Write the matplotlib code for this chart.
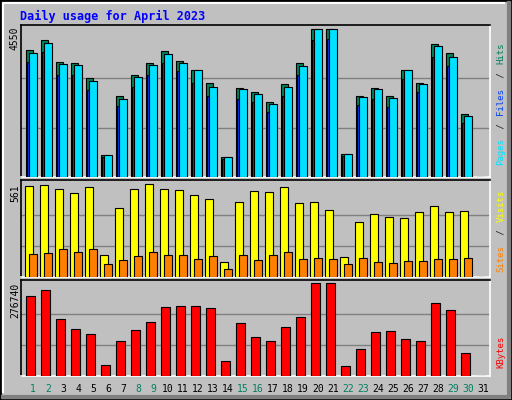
import matplotlib
matplotlib.use('Agg')
import matplotlib.pyplot as plt
import numpy as np

# daily values (April 2023)
days = np.arange(1, 32)
hits = [3900, 4200, 3550, 3520, 3050, 680, 2500, 3150, 3520, 3880, 3580, 3300, 2900, 620,
        2750, 2600, 2300, 2850, 3500, 4550, 4550, 720, 2500, 2750, 2500, 3300, 2900, 4100,
        3800, 1950, 0]
files = [3800, 4120, 3460, 3430, 2950, 680, 2400, 3060, 3430, 3790, 3490, 3300, 2770, 620,
         2700, 2540, 2230, 2780, 3420, 4550, 4550, 720, 2450, 2700, 2420, 3300, 2870, 4020,
         3700, 1880, 0]
pages = [3550, 3830, 3150, 3150, 2680, 620, 2170, 2780, 3150, 3520, 3250, 2900, 2500, 560,
         2400, 2300, 2000, 2500, 3150, 4200, 4250, 660, 2200, 2400, 2150, 3000, 2600, 3700,
         3400, 1650, 0]
visits = [550, 556, 531, 507, 544, 133, 416, 531, 561, 531, 525, 495, 471, 90, 453, 519, 513,
          543, 447, 453, 405, 121, 332, 380, 362, 356, 392, 428, 392, 398, 0]
sites = [139, 145, 169, 151, 169, 79, 103, 127, 151, 133, 133, 109, 127, 48, 133, 103, 133,
         151, 109, 115, 109, 79, 115, 91, 85, 97, 97, 109, 109, 115, 0]
kbytes = [238000, 256000, 170000, 140000, 125000, 33000, 104000, 137000, 161000, 205000,
          208000, 208000, 202000, 45000, 158000, 116000, 104000, 146000, 177000, 276740,
          276740, 30000, 79000, 131000, 134000, 110000, 104000, 217000, 196000, 67000, 0]
weekend = [1, 2, 8, 9, 15, 16, 22, 23, 29, 30]

W, H = 512, 400
BG = '#c0c0c0'
fig = plt.figure(figsize=(W / 100, H / 100), dpi=100)
fig.patch.set_facecolor(BG)


def px_axes(x0, y0, x1, y1):
    ax = fig.add_axes([x0 / W, 1 - y1 / H, (x1 - x0) / W, (y1 - y0) / H])
    ax.set_facecolor(BG)
    ax.set_xlim(0.4, 31.67)
    ax.set_xticks([])
    ax.set_yticks([])
    for s in ['top', 'left']:
        ax.spines[s].set_color('black')
        ax.spines[s].set_linewidth(1.2)
    for s in ['bottom', 'right']:
        ax.spines[s].set_color('white')
        ax.spines[s].set_linewidth(1.2)
    return ax


def bars(ax, vals, l, r, color):
    ax.bar(days + (l + r) / 2, vals, width=r - l, color=color, edgecolor='black',
           linewidth=0.8, zorder=3)


# outer frame
fig.add_artist(plt.Rectangle((0, 0), 1, 1, transform=fig.transFigure, fill=False,
                             edgecolor='black', linewidth=2))
fig.add_artist(plt.Line2D([3 / W, 3 / W, 1 - 8 / W], [8 / H, 1 - 3 / H, 1 - 3 / H],
                          transform=fig.transFigure, color='white', linewidth=1.5))
fig.add_artist(plt.Line2D([3 / W, 1 - 3 / W, 1 - 3 / W], [3 / H, 3 / H, 1 - 3 / H],
                          transform=fig.transFigure, color='#808080', linewidth=3))

fig.text(20 / W, 1 - 16 / H, 'Daily usage for April 2023', color='#0000ff',
         family='DejaVu Sans Mono', fontweight='bold', fontsize=8.5, va='center')

# top panel: hits / files / pages
ax1 = px_axes(21, 25, 490, 177)
ymax1 = max(hits) * 148 / 148.0
ax1.set_ylim(0, ymax1 * 152 / 148)
for g in [ymax1 / 3, ymax1 * 2 / 3]:
    ax1.axhline(g, color='#808080', linewidth=1, zorder=1)
bars(ax1, hits, -0.29, 0.2, '#00805c')
bars(ax1, pages, -0.2, -0.07, '#0040ff')
bars(ax1, files, -0.05, 0.45, '#00e0ff')

# middle panel: visits / sites
ax2 = px_axes(21, 180, 490, 277)
ymax2 = max(visits)
ax2.set_ylim(0, ymax2 * 97 / 93)
for g in [ymax2 / 3, ymax2 * 2 / 3]:
    ax2.axhline(g, color='#808080', linewidth=1, zorder=1)
bars(ax2, visits, -0.33, 0.2, '#ffff00')
bars(ax2, sites, -0.05, 0.45, '#ff8000')

# bottom panel: kbytes
ax3 = px_axes(21, 280, 490, 376)
ymax3 = max(kbytes)
ax3.set_ylim(0, ymax3 * 96 / 93)
for g in [ymax3 / 3, ymax3 * 2 / 3]:
    ax3.axhline(g, color='#808080', linewidth=1, zorder=1)
bars(ax3, kbytes, -0.25, 0.33, '#ff0000')

# max labels on the left
for y, lab in [(27, str(max(hits))), (184, str(max(visits))), (283, str(max(kbytes)))]:
    fig.text(15 / W, 1 - y / H, lab, rotation=90, ha='center', va='top', fontsize=7,
             family='DejaVu Sans Mono')

# day labels
for d in days:
    x = (30 + 15 * (d - 1) + 3) / W
    fig.text(x, 1 - 389 / H, str(d), ha='center', va='center', fontsize=7,
             family='DejaVu Sans Mono', color='#008060' if d in weekend else 'black')

# right side legends, read bottom to top
def side_legend(ybottom, parts):
    y = ybottom
    for txt, col in parts:
        t = fig.text(501 / W, 1 - y / H, txt, rotation=90, ha='center', va='bottom',
                     fontsize=6.5, family='DejaVu Sans Mono', color=col)
        y -= len(txt) * 6.3

side_legend(165, [('Pages', '#00e0ff'), (' / ', '#202020'), ('Files', '#0040ff'),
                  (' / ', '#202020'), ('Hits', '#00805c')])
side_legend(272, [('Sites', '#ff8000'), (' / ', '#202020'), ('Visits', '#ffff00')])
side_legend(368, [('KBytes', '#ff0000')])

fig.savefig('out.png', dpi=100, facecolor=BG)
